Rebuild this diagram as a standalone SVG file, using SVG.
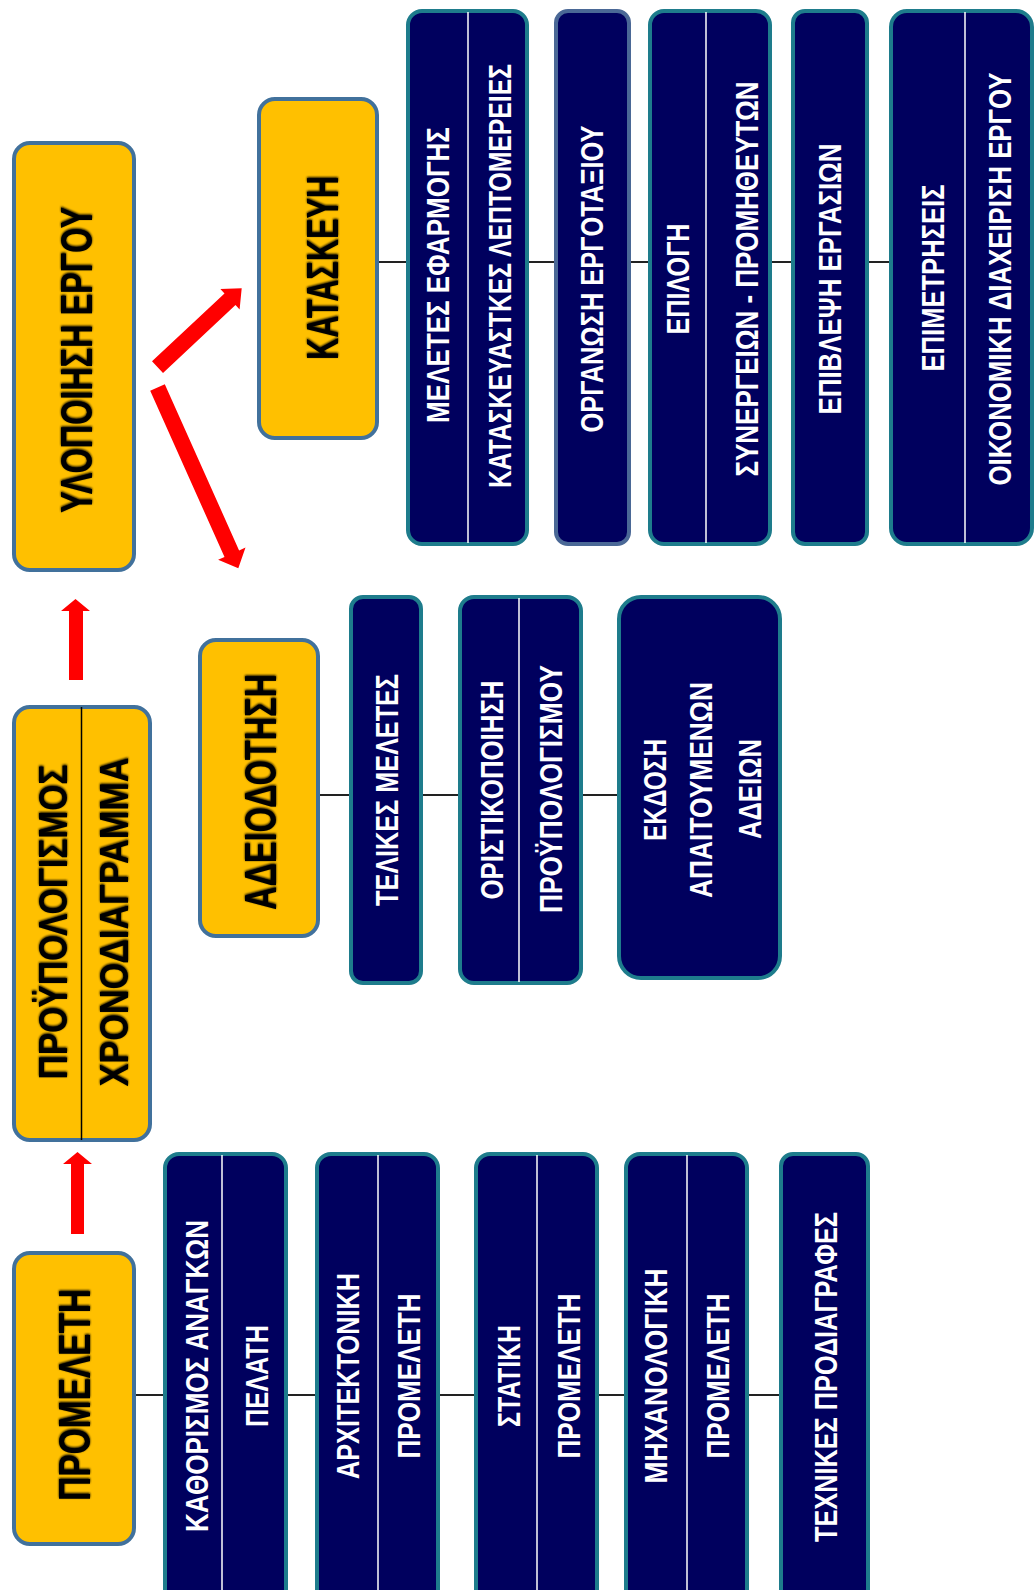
<svg xmlns="http://www.w3.org/2000/svg" width="1035" height="1590" viewBox="0 0 1035 1590">
<defs>
<style>
.yb{fill:#FFC000;stroke:#41719C;stroke-width:4}
.nb{fill:#00005E;stroke:#1E7C8C;stroke-width:4}
.nb2{fill:#00005E;stroke:#4A6896;stroke-width:4}
.dw{stroke:#FFFFFF;stroke-width:1.5}
.dk{stroke:#000000;stroke-width:1.5}
.yt{font-family:"Liberation Sans",Arial,sans-serif;font-weight:bold;font-size:45px;fill:#000;text-anchor:middle}
.yt2{font-family:"Liberation Sans",Arial,sans-serif;font-weight:bold;font-size:40px;fill:#000;text-anchor:middle}
.nt{font-family:"Liberation Sans",Arial,sans-serif;font-weight:bold;font-size:31px;fill:#FFF;text-anchor:middle}
.ns{font-family:"Liberation Sans",Arial,sans-serif;font-weight:bold;font-size:24px;fill:#FFF;text-anchor:middle}
.ln{stroke:#222;stroke-width:2.2;fill:none}
.ar{fill:#FF0000}
</style>
<filter id="sh" x="-10%" y="-10%" width="120%" height="120%">
<feGaussianBlur in="SourceAlpha" stdDeviation="1.2" result="b"/>
<feOffset in="b" dx="1" dy="0" result="o"/>
<feMerge><feMergeNode in="o"/><feMergeNode in="SourceGraphic"/></feMerge>
</filter>
</defs>
<rect width="1035" height="1590" fill="#FFFFFF"/>

<g id="connectors">
<line class="ln" x1="378" y1="262" x2="890" y2="262"/>
<line class="ln" x1="319" y1="795" x2="618" y2="795"/>
<line class="ln" x1="135" y1="1395" x2="781" y2="1395"/>
<polygon class="ar" points="71,1234 71,1164 63,1164 77.5,1152 92,1164 84,1164 84,1234"/>
<polygon class="ar" points="69,680 69,611 61,611 75.5,599 90,611 83,611 83,680"/>
<polygon class="ar" points="163.0,372.9 235.5,305.0 239.6,309.4 241.7,288.3 220.4,289.0 224.5,293.4 152.0,361.2"/>
<polygon class="ar" points="150.2,390.8 224.5,557.0 218.1,559.8 238.3,568.3 245.5,547.6 239.1,550.4 164.8,384.2"/>
</g>

<g id="ylopoiisi">
<rect class="yb" x="14" y="143" width="120" height="427" rx="16"/>
<text class="yt" filter="url(#sh)" transform="translate(76,360) rotate(-90)" y="16" textLength="306" lengthAdjust="spacingAndGlyphs">ΥΛΟΠΟΙΗΣΗ ΕΡΓΟΥ</text>
</g>

<g id="kataskevi">
<rect class="yb" x="259" y="99" width="118" height="339" rx="16"/>
<text class="yt" filter="url(#sh)" transform="translate(322,268) rotate(-90)" y="16" textLength="184" lengthAdjust="spacingAndGlyphs">ΚΑΤΑΣΚΕΥΗ</text>
</g>

<g id="proypologismos">
<rect class="yb" x="14" y="707" width="136" height="433" rx="16"/>
<line class="dk" x1="81.5" y1="707" x2="81.5" y2="1140"/>
<text class="yt2" filter="url(#sh)" transform="translate(53,922) rotate(-90)" y="14" textLength="315" lengthAdjust="spacingAndGlyphs">ΠΡΟΫΠΟΛΟΓΙΣΜΟΣ</text>
<text class="yt2" filter="url(#sh)" transform="translate(114,922) rotate(-90)" y="14" textLength="329" lengthAdjust="spacingAndGlyphs">ΧΡΟΝΟΔΙΑΓΡΑΜΜΑ</text>
</g>

<g id="adeiodotisi">
<rect class="yb" x="200" y="640" width="118" height="296" rx="16"/>
<text class="yt" filter="url(#sh)" transform="translate(260,792) rotate(-90)" y="16" textLength="236" lengthAdjust="spacingAndGlyphs">ΑΔΕΙΟΔΟΤΗΣΗ</text>
</g>

<g id="promeleti">
<rect class="yb" x="14" y="1253" width="120" height="291" rx="16"/>
<text class="yt" filter="url(#sh)" transform="translate(74,1395) rotate(-90)" y="16" textLength="212" lengthAdjust="spacingAndGlyphs">ΠΡΟΜΕΛΕΤΗ</text>
</g>

<g id="meletes-efarmogis">
<rect class="nb" x="408" y="11" width="119" height="533" rx="14"/>
<line class="dw" x1="468" y1="12" x2="468" y2="543"/>
<text class="nt" transform="translate(438,275) rotate(-90)" y="11" textLength="296" lengthAdjust="spacingAndGlyphs">ΜΕΛΕΤΕΣ ΕΦΑΡΜΟΓΗΣ</text>
<text class="ns" transform="translate(500,276) rotate(-90) scale(1,1.29)" y="8.5" textLength="424" lengthAdjust="spacingAndGlyphs">ΚΑΤΑΣΚΕΥΑΣΤΚΕΣ ΛΕΠΤΟΜΕΡΕΙΕΣ</text>
</g>

<g id="organosi">
<rect class="nb2" x="556" y="11" width="73" height="533" rx="12"/>
<text class="nt" transform="translate(592,279) rotate(-90)" y="11" textLength="307" lengthAdjust="spacingAndGlyphs">ΟΡΓΑΝΩΣΗ ΕΡΓΟΤΑΞΙΟΥ</text>
</g>

<g id="epilogi">
<rect class="nb" x="650" y="11" width="120" height="533" rx="14"/>
<line class="dw" x1="706" y1="12" x2="706" y2="543"/>
<text class="nt" transform="translate(678,279) rotate(-90)" y="11" textLength="111" lengthAdjust="spacingAndGlyphs">ΕΠΙΛΟΓΗ</text>
<text class="nt" transform="translate(747,279) rotate(-90)" y="11" textLength="395" lengthAdjust="spacingAndGlyphs">ΣΥΝΕΡΓΕΙΩΝ - ΠΡΟΜΗΘΕΥΤΩΝ</text>
</g>

<g id="epivlepsi">
<rect class="nb" x="793" y="11" width="74" height="533" rx="12"/>
<text class="nt" transform="translate(830,279) rotate(-90)" y="11" textLength="271" lengthAdjust="spacingAndGlyphs">ΕΠΙΒΛΕΨΗ ΕΡΓΑΣΙΩΝ</text>
</g>

<g id="epimetriseis">
<rect class="nb" x="891" y="11" width="141" height="533" rx="16"/>
<line class="dw" x1="965" y1="12" x2="965" y2="543"/>
<text class="nt" transform="translate(933,278) rotate(-90)" y="11" textLength="187" lengthAdjust="spacingAndGlyphs">ΕΠΙΜΕΤΡΗΣΕΙΣ</text>
<text class="ns" transform="translate(1000,279) rotate(-90) scale(1,1.29)" y="8.5" textLength="413" lengthAdjust="spacingAndGlyphs">ΟΙΚΟΝΟΜΙΚΗ ΔΙΑΧΕΙΡΙΣΗ ΕΡΓΟΥ</text>
</g>

<g id="telikes-meletes">
<rect class="nb" x="351" y="597" width="70" height="386" rx="12"/>
<text class="nt" transform="translate(387,790) rotate(-90)" y="11" textLength="232" lengthAdjust="spacingAndGlyphs">ΤΕΛΙΚΕΣ ΜΕΛΕΤΕΣ</text>
</g>

<g id="oristikopoiisi">
<rect class="nb" x="460" y="597" width="121" height="386" rx="14"/>
<line class="dw" x1="519" y1="598" x2="519" y2="982"/>
<text class="nt" transform="translate(492,790) rotate(-90)" y="11" textLength="219" lengthAdjust="spacingAndGlyphs">ΟΡΙΣΤΙΚΟΠΟΙΗΣΗ</text>
<text class="nt" transform="translate(551,789) rotate(-90)" y="11" textLength="248" lengthAdjust="spacingAndGlyphs">ΠΡΟΫΠΟΛΟΓΙΣΜΟΥ</text>
</g>

<g id="ekdosi">
<rect class="nb" x="619" y="597" width="161" height="381" rx="22"/>
<text class="nt" transform="translate(655,790) rotate(-90)" y="11" textLength="102" lengthAdjust="spacingAndGlyphs">ΕΚΔΟΣΗ</text>
<text class="nt" transform="translate(701,790) rotate(-90)" y="11" textLength="216" lengthAdjust="spacingAndGlyphs">ΑΠΑΙΤΟΥΜΕΝΩΝ</text>
<text class="nt" transform="translate(750,789) rotate(-90)" y="11" textLength="100" lengthAdjust="spacingAndGlyphs">ΑΔΕΙΩΝ</text>
</g>

<g id="kathorismos">
<rect class="nb" x="165" y="1154" width="121" height="470" rx="14"/>
<line class="dw" x1="222" y1="1155" x2="222" y2="1600"/>
<text class="nt" transform="translate(197,1376) rotate(-90)" y="11" textLength="312" lengthAdjust="spacingAndGlyphs">ΚΑΘΟΡΙΣΜΟΣ ΑΝΑΓΚΩΝ</text>
<text class="nt" transform="translate(257,1376) rotate(-90)" y="11" textLength="102" lengthAdjust="spacingAndGlyphs">ΠΕΛΑΤΗ</text>
</g>

<g id="architektoniki">
<rect class="nb" x="317" y="1154" width="121" height="470" rx="14"/>
<line class="dw" x1="378" y1="1155" x2="378" y2="1600"/>
<text class="nt" transform="translate(348,1376) rotate(-90)" y="11" textLength="206" lengthAdjust="spacingAndGlyphs">ΑΡΧΙΤΕΚΤΟΝΙΚΗ</text>
<text class="nt" transform="translate(409,1376) rotate(-90)" y="11" textLength="165" lengthAdjust="spacingAndGlyphs">ΠΡΟΜΕΛΕΤΗ</text>
</g>

<g id="statiki">
<rect class="nb" x="476" y="1154" width="121" height="470" rx="14"/>
<line class="dw" x1="537" y1="1155" x2="537" y2="1600"/>
<text class="nt" transform="translate(509,1376) rotate(-90)" y="11" textLength="102" lengthAdjust="spacingAndGlyphs">ΣΤΑΤΙΚΗ</text>
<text class="nt" transform="translate(569,1376) rotate(-90)" y="11" textLength="165" lengthAdjust="spacingAndGlyphs">ΠΡΟΜΕΛΕΤΗ</text>
</g>

<g id="michanologiki">
<rect class="nb" x="626" y="1154" width="121" height="470" rx="14"/>
<line class="dw" x1="687" y1="1155" x2="687" y2="1600"/>
<text class="nt" transform="translate(656,1376) rotate(-90)" y="11" textLength="215" lengthAdjust="spacingAndGlyphs">ΜΗΧΑΝΟΛΟΓΙΚΗ</text>
<text class="nt" transform="translate(718,1376) rotate(-90)" y="11" textLength="165" lengthAdjust="spacingAndGlyphs">ΠΡΟΜΕΛΕΤΗ</text>
</g>

<g id="technikes">
<rect class="nb" x="781" y="1154" width="87" height="470" rx="12"/>
<text class="nt" transform="translate(826,1377) rotate(-90)" y="11" textLength="330" lengthAdjust="spacingAndGlyphs">ΤΕΧΝΙΚΕΣ ΠΡΟΔΙΑΓΡΑΦΕΣ</text>
</g>
</svg>
